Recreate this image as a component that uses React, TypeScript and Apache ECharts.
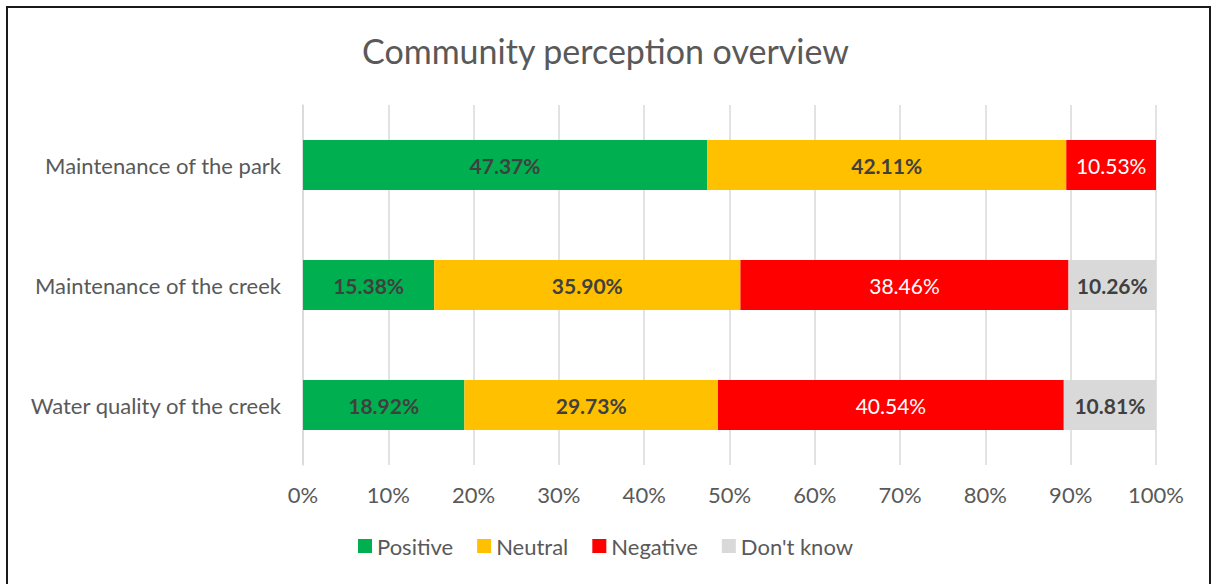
import React, { useEffect, useRef } from "react";
import * as echarts from "echarts";

const categories = ["Maintenance of the park", "Maintenance of the creek", "Water quality of the creek"];
const positive = [47.37, 15.38, 18.92];
const neutral = [42.11, 35.9, 29.73];
const negative = [10.53, 38.46, 40.54];
const dontKnow = [null, 10.26, 10.81];
const xTicks = [0, 10, 20, 30, 40, 50, 60, 70, 80, 90, 100];

const FONT = "Lato, 'Liberation Sans', sans-serif";

export default function App() {
  const ref = useRef<HTMLDivElement>(null);
  useEffect(() => {
    const chart = echarts.init(ref.current!, undefined, { renderer: "svg" });
    const mk = (name: string, data: any[], color: string, labelColor: string, bold: boolean) => ({
      name,
      type: "bar",
      stack: "total",
      data,
      barWidth: 50,
      itemStyle: { color },
      label: {
        show: true,
        position: "inside",
        color: labelColor,
        fontFamily: FONT,
        fontSize: 21,
        fontWeight: bold ? "bold" : "normal",
        formatter: (p: any) => (p.value == null ? "" : Number(p.value).toFixed(2) + "%"),
      },
    });
    chart.setOption({
      animation: false,
      backgroundColor: "#ffffff",
      title: {
        text: "Community perception overview",
        left: "center",
        top: 28,
        textStyle: { fontFamily: FONT, fontSize: 34, fontWeight: "normal", color: "#595959" },
      },
      legend: {
        bottom: 22,
        left: "center",
        itemWidth: 14,
        itemHeight: 14,
        itemGap: 24,
        icon: "rect",
        textStyle: { fontFamily: FONT, fontSize: 22, color: "#595959" },
        data: ["Positive", "Neutral", "Negative", "Don't know"],
      },
      grid: { left: 303, right: 55, top: 105, bottom: 119, containLabel: false },
      xAxis: {
        type: "value",
        min: 0,
        max: 100,
        interval: 10,
        axisLine: { show: false },
        axisTick: { show: false },
        splitLine: { show: true, lineStyle: { color: "#d9d9d9", width: 1.5 } },
        axisLabel: {
          fontFamily: FONT,
          fontSize: 22,
          color: "#595959",
          margin: 18,
          formatter: (v: number) => (xTicks.includes(v) ? v + "%" : ""),
        },
      },
      yAxis: {
        type: "category",
        inverse: true,
        data: categories,
        axisLine: { show: true, lineStyle: { color: "#d9d9d9", width: 1.5 } },
        axisTick: { show: false },
        axisLabel: { fontFamily: FONT, fontSize: 22, color: "#595959", margin: 22 },
      },
      series: [
        mk("Positive", positive, "#00b050", "#404040", true),
        mk("Neutral", neutral, "#ffc000", "#404040", true),
        mk("Negative", negative, "#ff0000", "#ffffff", false),
        mk("Don't know", dontKnow, "#d9d9d9", "#404040", true),
      ],
      graphic: [
        {
          type: "rect",
          shape: { x: 7, y: 7, width: 1203, height: 600 },
          style: { fill: "none", stroke: "#1a1a1a", lineWidth: 2 },
          silent: true,
        },
      ],
    });
    return () => chart.dispose();
  }, []);
  return (
    <div
      ref={ref}
      style={{ position: "fixed", left: 0, top: 0, width: 1211, height: 584 }}
    />
  );
}
